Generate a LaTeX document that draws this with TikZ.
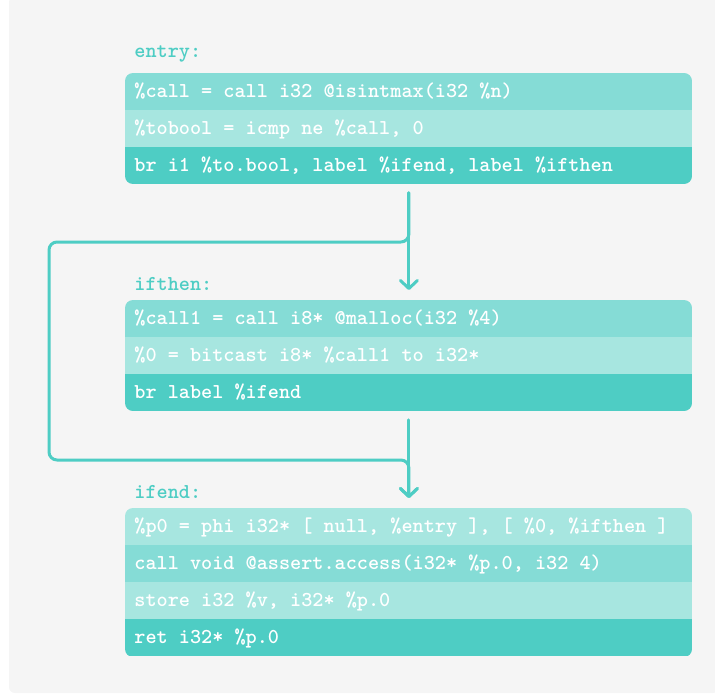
\documentclass[tikz,border=0pt]{standalone}
\usepackage{fontspec}
\usetikzlibrary{arrows.meta}

\definecolor{bggray}{HTML}{F5F5F5}
\definecolor{tealdark}{HTML}{4ECDC4}
\definecolor{tealmid}{HTML}{85DCD6}
\definecolor{teallight}{HTML}{A7E6E0}

\tikzset{
  codefont/.style={font=\fontsize{10.6pt}{12pt}\selectfont\ttfamily\bfseries},
  row/.style={codefont, text=white, anchor=north west, inner xsep=4.5pt, inner ysep=0pt,
    minimum width=283.5pt, minimum height=18.5pt, text height=0.75em, text depth=0.2em,
    align=left, text width=274.5pt,
    execute at begin node={\spaceskip=0.525em\relax\xspaceskip=0.525em\relax}},
  rowmid/.style={row, fill=tealmid},
  rowlight/.style={row, fill=teallight},
  rowdark/.style={row, fill=tealdark},
  blocklabel/.style={codefont, text=tealdark, anchor=base west, inner sep=0pt},
  flow/.style={draw=tealdark, line width=1.5pt, line cap=round, line join=round,
    -{Straight Barb[length=4pt, width=8.5pt, round]}},
}

\begin{document}
\begin{tikzpicture}[x=0.5pt, y=-0.5pt]
  \useasboundingbox (0,0) rectangle (715,695);
  \fill[bggray, rounded corners=3pt] (9,-4) rectangle (719,693);

  % block: entry
  \node[blocklabel] (lentry) at (134,58) {entry:};
  \begin{scope}
    \clip[rounded corners=4pt] (125,73) rectangle (692,184);
    \node[rowmid]   (e1) at (125,73)  {\%call = call i32 @isintmax(i32 \%n)};
    \node[rowlight] (e2) at (125,110) {\%tobool = icmp ne \%call, 0};
    \node[rowdark]  (e3) at (125,147) {br i1 \%to.bool, label \%ifend, label \%ifthen};
  \end{scope}

  % block: ifthen
  \node[blocklabel] (lifthen) at (134,290) {ifthen:};
  \begin{scope}
    \clip[rounded corners=4pt] (125,300) rectangle (692,411);
    \node[rowmid]   (t1) at (125,300) {\%call1 = call i8* @malloc(i32 \%4)};
    \node[rowlight] (t2) at (125,337) {\%0 = bitcast i8* \%call1 to i32*};
    \node[rowdark]  (t3) at (125,374) {br label \%ifend};
  \end{scope}

  % block: ifend
  \node[blocklabel] (lifend) at (134,498) {ifend:};
  \begin{scope}
    \clip[rounded corners=4pt] (125,508) rectangle (692,657);
    \node[rowlight] (f1) at (125,508) {\%p0 = phi i32* [ null, \%entry ], [ \%0, \%ifthen ]};
    \node[rowmid]   (f2) at (125,545) {call void @assert.access(i32* \%p.0, i32 4)};
    \node[rowlight] (f3) at (125,582) {store i32 \%v, i32* \%p.0};
    \node[rowdark]  (f4) at (125,619) {ret i32* \%p.0};
  \end{scope}

  % control flow edges
  \coordinate (looptop) at (49,242);
  \coordinate (loopbot) at (49,460);

  \draw[flow, shorten <=4pt, shorten >=5pt] (e3.south) -- (t1.north);
  \draw[flow, shorten <=4pt, shorten >=5pt] (t3.south) -- (f1.north);
  \draw[flow, rounded corners=4pt] ([yshift=-4pt]e3.south) |- (looptop)
    -- (loopbot) -| ([yshift=5pt]f1.north);
\end{tikzpicture}
\end{document}
